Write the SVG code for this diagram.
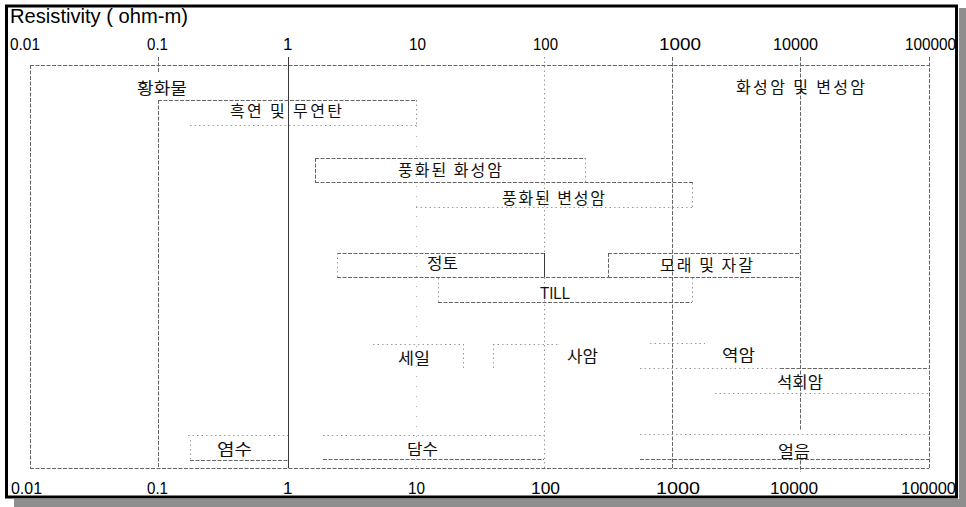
<svg xmlns="http://www.w3.org/2000/svg" width="966" height="507" viewBox="0 0 966 507">
<style>
.g{stroke:#666;stroke-width:1;fill:none;stroke-dasharray:4 1.5}
.s{stroke:#3a3a3a;stroke-width:1;fill:none}
.f{stroke:#9a9a9a;stroke-width:1;fill:none;stroke-dasharray:1.5 3}
.vf{stroke:#b0b0b0;stroke-width:1;fill:none;stroke-dasharray:1 9}
.ax{font-family:"Liberation Sans",Arial,sans-serif;font-size:17px;fill:#000}
.ttl{font-family:"Liberation Sans",Arial,sans-serif;font-size:20px;fill:#000}
.k{font-family:"Noto Sans CJK KR","Noto Sans",sans-serif;font-size:16px;fill:#111}
.t{font-family:"Liberation Sans",Arial,sans-serif;font-size:16px;fill:#111}
</style>
<rect width="966" height="507" fill="#fff"/>
<rect x="959" y="8" width="7" height="499" fill="#8e8e8e"/>
<rect x="14" y="499" width="952" height="8" fill="#8e8e8e"/>
<rect x="6.5" y="6" width="950" height="491" fill="none" stroke="#000" stroke-width="3"/>

<text class="ttl" x="10" y="23" textLength="178" lengthAdjust="spacingAndGlyphs">Resistivity ( ohm-m)</text>

<g id="axis-top" class="ax">
<text x="10" y="50" textLength="30" lengthAdjust="spacingAndGlyphs">0.01</text>
<text x="147" y="50" textLength="21" lengthAdjust="spacingAndGlyphs">0.1</text>
<text x="283" y="50">1</text>
<text x="409" y="50" textLength="17" lengthAdjust="spacingAndGlyphs">10</text>
<text x="533" y="50" textLength="25" lengthAdjust="spacingAndGlyphs">100</text>
<text x="659" y="50" textLength="42" lengthAdjust="spacingAndGlyphs">1000</text>
<text x="773" y="50" textLength="45" lengthAdjust="spacingAndGlyphs">10000</text>
<text x="905" y="50" textLength="51" lengthAdjust="spacingAndGlyphs">100000</text>
</g>
<g id="axis-bottom" class="ax">
<text x="11" y="494" textLength="31" lengthAdjust="spacingAndGlyphs">0.01</text>
<text x="147" y="494" textLength="21" lengthAdjust="spacingAndGlyphs">0.1</text>
<text x="283" y="494">1</text>
<text x="408" y="494" textLength="17" lengthAdjust="spacingAndGlyphs">10</text>
<text x="531" y="494" textLength="29" lengthAdjust="spacingAndGlyphs">100</text>
<text x="656" y="494" textLength="44" lengthAdjust="spacingAndGlyphs">1000</text>
<text x="770" y="494" textLength="48" lengthAdjust="spacingAndGlyphs">10000</text>
<text x="901" y="494" textLength="55" lengthAdjust="spacingAndGlyphs">100000</text>
</g>

<g id="connectors">
<line class="g" x1="30" y1="65.5" x2="929" y2="65.5"/>
<line class="g" x1="30" y1="468.5" x2="929" y2="468.5"/>
<line class="g" x1="30.5" y1="65" x2="30.5" y2="468"/>
<line class="g" x1="158.5" y1="57" x2="158.5" y2="73"/>
<line class="g" x1="158.5" y1="100" x2="158.5" y2="468"/>
<line class="s" x1="288.5" y1="57" x2="288.5" y2="468"/>
<line class="f" x1="416.5" y1="100" x2="416.5" y2="126"/>
<line class="vf" x1="416.5" y1="126" x2="416.5" y2="468"/>
<line class="f" x1="544.5" y1="57" x2="544.5" y2="468"/>
<line class="g" x1="672.5" y1="57" x2="672.5" y2="468"/>
<line class="g" x1="800.5" y1="57" x2="800.5" y2="430"/>
<line class="g" x1="800.5" y1="455" x2="800.5" y2="472"/>
<line class="g" x1="929.5" y1="57" x2="929.5" y2="468"/>
</g>

<g id="sulfide"><text class="k" x="137" y="94" textLength="50" lengthAdjust="spacingAndGlyphs">황화물</text></g>

<g id="graphite">
<line class="g" x1="158" y1="100.5" x2="417" y2="100.5"/>
<line class="f" x1="190" y1="125.5" x2="417" y2="125.5"/>
<text class="k" x="230" y="117" textLength="112" lengthAdjust="spacing">흑연 및 무연탄</text>
</g>

<g id="igneous-metamorphic"><text class="k" x="736" y="93" textLength="129" lengthAdjust="spacing">화성암 및 변성암</text></g>

<g id="weathered-igneous">
<line class="g" x1="315" y1="158.5" x2="585" y2="158.5"/>
<line class="g" x1="315.5" y1="158" x2="315.5" y2="182"/>
<line class="f" x1="585.5" y1="158" x2="585.5" y2="182"/>
<line class="g" x1="315" y1="182.5" x2="693" y2="182.5"/>
<text class="k" x="398" y="176" textLength="104" lengthAdjust="spacing">풍화된 화성암</text>
</g>

<g id="weathered-metamorphic">
<line class="f" x1="692.5" y1="183" x2="692.5" y2="207"/>
<line class="f" x1="416" y1="207.5" x2="693" y2="207.5"/>
<text class="k" x="502" y="204" textLength="103" lengthAdjust="spacing">풍화된 변성암</text>
</g>

<g id="clay">
<line class="g" x1="337" y1="253.5" x2="544" y2="253.5"/>
<line class="f" x1="337.5" y1="253" x2="337.5" y2="277"/>
<line class="s" x1="544.5" y1="253" x2="544.5" y2="277"/>
<line class="g" x1="337" y1="277.5" x2="608" y2="277.5"/>
<text class="k" x="427" y="269" textLength="31" lengthAdjust="spacingAndGlyphs">정토</text>
</g>

<g id="sand-gravel">
<line class="g" x1="608" y1="253.5" x2="800" y2="253.5"/>
<line class="g" x1="608.5" y1="253" x2="608.5" y2="277"/>
<line class="g" x1="608" y1="277.5" x2="800" y2="277.5"/>
<text class="k" x="660" y="271" textLength="93" lengthAdjust="spacing">모래 및 자갈</text>
</g>

<g id="till">
<line class="f" x1="438.5" y1="278" x2="438.5" y2="302"/>
<line class="g" x1="438" y1="302.5" x2="692" y2="302.5"/>
<line class="f" x1="692.5" y1="278" x2="692.5" y2="302"/>
<text class="t" x="540" y="299" textLength="30" lengthAdjust="spacingAndGlyphs">TILL</text>
</g>

<g id="shale">
<line class="f" x1="373" y1="344.5" x2="463" y2="344.5"/>
<line class="f" x1="463.5" y1="344" x2="463.5" y2="368"/>
<text class="k" x="398" y="364" textLength="32" lengthAdjust="spacingAndGlyphs">세일</text>
</g>

<g id="sandstone">
<line class="f" x1="493.5" y1="344" x2="493.5" y2="368"/>
<line class="f" x1="493" y1="344.5" x2="560" y2="344.5"/>
<text class="k" x="567" y="362" textLength="31" lengthAdjust="spacingAndGlyphs">사암</text>
</g>

<g id="conglomerate">
<line class="f" x1="650" y1="343.5" x2="705" y2="343.5"/>
<text class="k" x="722" y="361" textLength="33" lengthAdjust="spacingAndGlyphs">역암</text>
</g>

<g id="limestone">
<line class="f" x1="640" y1="368.5" x2="780" y2="368.5"/>
<line class="g" x1="780" y1="368.5" x2="929" y2="368.5"/>
<line class="f" x1="715" y1="393.5" x2="929" y2="393.5"/>
<text class="k" x="777" y="388" textLength="46" lengthAdjust="spacingAndGlyphs">석회암</text>
</g>

<g id="salt-water">
<line class="f" x1="188" y1="435.5" x2="288" y2="435.5"/>
<line class="f" x1="190.5" y1="440" x2="190.5" y2="460"/>
<line class="g" x1="190" y1="460.5" x2="288" y2="460.5"/>
<text class="k" x="217" y="455" textLength="35" lengthAdjust="spacingAndGlyphs">염수</text>
</g>

<g id="fresh-water">
<line class="f" x1="323" y1="435.5" x2="544" y2="435.5"/>
<line class="g" x1="323" y1="459.5" x2="544" y2="459.5"/>
<text class="k" x="407" y="455" textLength="31" lengthAdjust="spacingAndGlyphs">담수</text>
</g>

<g id="ice">
<line class="f" x1="640" y1="434.5" x2="929" y2="434.5"/>
<line class="g" x1="640" y1="459.5" x2="929" y2="459.5"/>
<text class="k" x="778" y="457" textLength="32" lengthAdjust="spacingAndGlyphs">얼음</text>
</g>
</svg>
